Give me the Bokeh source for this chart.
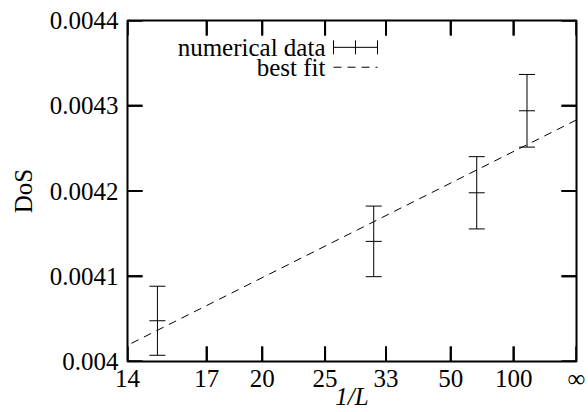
from math import pi
from bokeh.plotting import figure
from bokeh.models import Range1d, FixedTicker, Label, Arrow
from bokeh.embed import file_html
from bokeh.resources import INLINE

# ---- data ----
L_values = [15, 31, 63, 127]
dos = [0.0040478, 0.0041409, 0.0041979, 0.0042941]
dos_err = [0.0000405, 0.0000414, 0.0000424, 0.0000426]

# best-fit line end points (1/L, DoS)
fit_inv_L = [0.0, 1 / 14]
fit_dos = [0.0042834, 0.0040190]

x_tick_L = [14, 17, 20, 25, 33, 50, 100]        # plus infinity (1/L = 0)
x_tick_labels = ["14", "17", "20", "25", "33", "50", "100", "∞"]
y_ticks = [0.004, 0.0041, 0.0042, 0.0043, 0.0044]
y_tick_labels = ["0.004", "0.0041", "0.0042", "0.0043", "0.0044"]

FONT = "Liberation Serif"
FS = "25px"

X_LEFT, X_RIGHT = 1 / 14, 0.0
Y_BOT, Y_TOP = 0.004, 0.0044

W, H = 588, 412
B_LEFT, B_RIGHT, B_TOP, B_BOTTOM = 127, 12, 20, 49
FRAME_W = W - B_LEFT - B_RIGHT
FRAME_H = H - B_TOP - B_BOTTOM
TICK_PX = 15

x_ticks = [1 / l for l in x_tick_L] + [0.0]
inv_L = [1 / l for l in L_values]

p = figure(width=W, height=H,
           x_range=Range1d(X_LEFT, X_RIGHT), y_range=Range1d(Y_BOT, Y_TOP),
           output_backend="svg", toolbar_location=None,
           min_border_left=B_LEFT, min_border_right=B_RIGHT,
           min_border_top=B_TOP, min_border_bottom=B_BOTTOM)
p.xgrid.visible = False
p.ygrid.visible = False
p.outline_line_color = "black"
p.outline_line_width = 2
p.background_fill_color = "white"
p.border_fill_color = "white"

bottom_ax = p.below[0]
left_ax = p.left[0]
bottom_ax.ticker = FixedTicker(ticks=x_ticks)
bottom_ax.major_label_overrides = {t: s for t, s in zip(x_ticks, x_tick_labels)}
left_ax.ticker = FixedTicker(ticks=y_ticks)
left_ax.major_label_overrides = {t: s for t, s in zip(y_ticks, y_tick_labels)}

for ax in [bottom_ax, left_ax]:
    ax.axis_line_color = None
    ax.major_tick_line_color = None
    ax.minor_tick_line_color = None
    ax.major_tick_in = 0
    ax.major_tick_out = 0
    ax.minor_tick_in = 0
    ax.minor_tick_out = 0
    ax.major_label_text_font = FONT
    ax.major_label_text_font_size = FS
    ax.major_label_text_color = "black"
    ax.axis_label_text_font = FONT
    ax.axis_label_text_font_size = FS
    ax.axis_label_text_color = "black"

bottom_ax.major_label_standoff = 3
bottom_ax.axis_label = "1/L"
bottom_ax.axis_label_text_font_style = "italic"
bottom_ax.axis_label_standoff = -12

left_ax.major_label_standoff = 9
left_ax.axis_label = "DoS"
left_ax.axis_label_text_font_style = "normal"
left_ax.axis_label_standoff = 10

# ---- best fit ----
p.line(fit_inv_L, fit_dos, line_color="black", line_width=1, line_dash="8 6")

# ---- data with error bars ----
lo = [d - e for d, e in zip(dos, dos_err)]
hi = [d + e for d, e in zip(dos, dos_err)]
p.segment(x0=inv_L, y0=lo, x1=inv_L, y1=hi, line_color="black", line_width=1)
p.scatter(x=inv_L + inv_L, y=lo + hi, marker="dash", size=16,
          line_color="black", line_width=1)
p.scatter(x=inv_L, y=dos, marker="dash", size=16, line_color="black", line_width=1)


# ---- legend (positions as fractions of the frame) ----
def fx(f):
    return X_LEFT + f * (X_RIGHT - X_LEFT)


def fy(f):
    return Y_BOT + f * (Y_TOP - Y_BOT)


leg_text_x = 0.441
sym_x0, sym_xc, sym_x1 = 0.4588, 0.5078, 0.5568
row1, row2 = 0.9213, 0.8630

p.add_layout(Label(x=fx(leg_text_x), y=fy(row1), text="numerical data",
                   text_align="right", text_baseline="middle",
                   text_font=FONT, text_font_size=FS, text_color="black"))
p.add_layout(Label(x=fx(leg_text_x), y=fy(row2), text="best fit",
                   text_align="right", text_baseline="middle",
                   text_font=FONT, text_font_size=FS, text_color="black"))
p.segment(x0=[fx(sym_x0)], y0=[fy(row1)], x1=[fx(sym_x1)], y1=[fy(row1)],
          line_color="black", line_width=1)
p.scatter(x=[fx(sym_x0), fx(sym_xc), fx(sym_x1)], y=[fy(row1)] * 3,
          marker="dash", angle=pi / 2, size=14, line_color="black", line_width=1)
p.line([fx(sym_x0), fx(sym_x1)], [fy(row2), fy(row2)], line_color="black",
       line_width=1, line_dash="8 6")

# ---- inward ticks on all four sides ----
tlx = TICK_PX / FRAME_W * (X_RIGHT - X_LEFT)   # signed: points inward from left
tly = TICK_PX / FRAME_H * (Y_TOP - Y_BOT)
NAN = float("nan")

# one broken polyline per side (NaN separates the ticks)
bx, by, tx_, ty_ = [], [], [], []
for t in x_ticks:
    bx += [t, t, NAN]
    by += [Y_BOT, Y_BOT + tly, NAN]
    tx_ += [t, t, NAN]
    ty_ += [Y_TOP, Y_TOP - tly, NAN]
lx, ly, rx, ry = [], [], [], []
for t in y_ticks:
    lx += [X_LEFT, X_LEFT + tlx, NAN]
    ly += [t, t, NAN]
    rx += [X_RIGHT, X_RIGHT - tlx, NAN]
    ry += [t, t, NAN]
for xs, ys in [(bx, by), (tx_, ty_), (lx, ly), (rx, ry)]:
    p.line(xs, ys, line_color="black", line_width=2)

# the same ticks again as head-less arrow annotations
for t in x_ticks:
    p.add_layout(Arrow(x_start=t, y_start=Y_BOT, x_end=t, y_end=Y_BOT + tly,
                       start=None, end=None, line_color="black", line_width=2))
    p.add_layout(Arrow(x_start=t, y_start=Y_TOP, x_end=t, y_end=Y_TOP - tly,
                       start=None, end=None, line_color="black", line_width=2))
for t in y_ticks:
    p.add_layout(Arrow(x_start=X_LEFT, y_start=t, x_end=X_LEFT + tlx, y_end=t,
                       start=None, end=None, line_color="black", line_width=2))
    p.add_layout(Arrow(x_start=X_RIGHT, y_start=t, x_end=X_RIGHT - tlx, y_end=t,
                       start=None, end=None, line_color="black", line_width=2))

open("out.html", "w").write(file_html(p, INLINE))
